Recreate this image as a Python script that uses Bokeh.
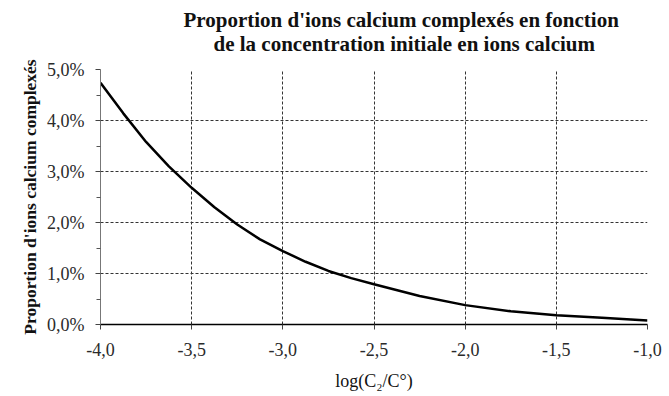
from bokeh.plotting import figure
from bokeh.models import FixedTicker, Range1d, Title, CustomJSTickFormatter
from bokeh.embed import file_html
from bokeh.resources import INLINE

# Data
log_c = [-4.0, -3.875, -3.75, -3.625, -3.5, -3.375, -3.25, -3.125, -3.0,
         -2.875, -2.75, -2.625, -2.5, -2.25, -2.0, -1.75, -1.5, -1.25, -1.0]
proportion_pct = [4.74, 4.14, 3.58, 3.10, 2.68, 2.30, 1.96, 1.67, 1.44,
                  1.23, 1.05, 0.91, 0.79, 0.56, 0.38, 0.26, 0.18, 0.13, 0.08]

x_ticks = [-4.0, -3.5, -3.0, -2.5, -2.0, -1.5, -1.0]
x_tick_labels = ["-4,0", "-3,5", "-3,0", "-2,5", "-2,0", "-1,5", "-1,0"]
y_ticks = [0, 1, 2, 3, 4, 5]
y_minor = [0.5, 1.5, 2.5, 3.5, 4.5]
y_tick_labels = ["0,0%", "1,0%", "2,0%", "3,0%", "4,0%", "5,0%"]

title_lines = ["Proportion d'ions calcium complexés en fonction",
               "de la concentration initiale  en ions calcium"]
x_label = "log(C₂/C°)"
y_label = "Proportion d'ions calcium complexés"

SERIF = "Liberation Serif"
TICK_FONT = "Times New Roman"

LOOKUP = """
for (let i = 0; i < tvals.length; i++) {
  if (Math.abs(tvals[i] - tick) < 1e-6) { return tlabels[i]; }
}
return "";
"""

p = figure(width=669, height=396, output_backend="svg", toolbar_location=None,
           x_range=Range1d(-4.0, -1.0), y_range=Range1d(0, 5))
p.min_border_left = 100
p.min_border_right = 22
p.min_border_top = 69
p.min_border_bottom = 72
p.outline_line_color = None
p.background_fill_color = "white"
p.border_fill_color = "white"

p.line(log_c, proportion_pct, line_color="black", line_width=2.5)

# Axes
p.xaxis.ticker = FixedTicker(ticks=x_ticks)
p.xaxis.formatter = CustomJSTickFormatter(args=dict(tvals=x_ticks, tlabels=x_tick_labels), code=LOOKUP)
p.yaxis.ticker = FixedTicker(ticks=y_ticks, minor_ticks=y_minor)
p.yaxis.formatter = CustomJSTickFormatter(args=dict(tvals=y_ticks, tlabels=y_tick_labels), code=LOOKUP)

for ax in (p.xaxis[0], p.yaxis[0]):
    ax.major_label_text_font = TICK_FONT
    ax.major_label_text_font_size = "18px"
    ax.major_label_text_color = "#2a2a2a"
    ax.axis_label_text_font = SERIF
    ax.axis_label_text_font_size = "17.5px"
    ax.axis_label_text_color = "#111111"
    ax.major_tick_in = 0
    ax.major_tick_out = 5
    ax.major_tick_line_color = "#444444"

p.xaxis.axis_label = x_label
p.xaxis.axis_label_text_font_style = "normal"
p.xaxis.axis_label_text_font_size = "18px"
p.xaxis.axis_line_color = "black"
p.xaxis.axis_line_width = 1.5
p.xaxis.minor_tick_out = 0
p.xaxis.minor_tick_in = 0
p.xaxis.major_label_standoff = 13
p.xaxis.axis_label_standoff = 12

p.yaxis.axis_label = y_label
p.yaxis.axis_label_text_font_style = "bold"
p.yaxis.axis_line_color = "#777777"
p.yaxis.minor_tick_out = 4
p.yaxis.minor_tick_in = 0
p.yaxis.minor_tick_line_color = "#555555"
p.yaxis.major_label_standoff = 11
p.yaxis.axis_label_standoff = 4

# Grid
for g in (p.xgrid[0], p.ygrid[0]):
    g.grid_line_color = "#333333"
    g.grid_line_dash = "3 2"
    g.grid_line_width = 1
p.xgrid.ticker = FixedTicker(ticks=x_ticks)
p.ygrid.ticker = FixedTicker(ticks=y_ticks)

# Title: two lines (main title is the top line, the added one sits nearest the plot)
p.title = Title(text=title_lines[0], align="left", offset=83, standoff=-32,
                text_font=SERIF, text_font_style="bold", text_font_size="21px",
                text_color="#111111")
p.add_layout(Title(text=title_lines[1], align="left", offset=113, standoff=28,
                   text_font=SERIF, text_font_style="bold", text_font_size="21px",
                   text_color="#111111"), "above")

open("out.html", "w").write(file_html(p, INLINE))
